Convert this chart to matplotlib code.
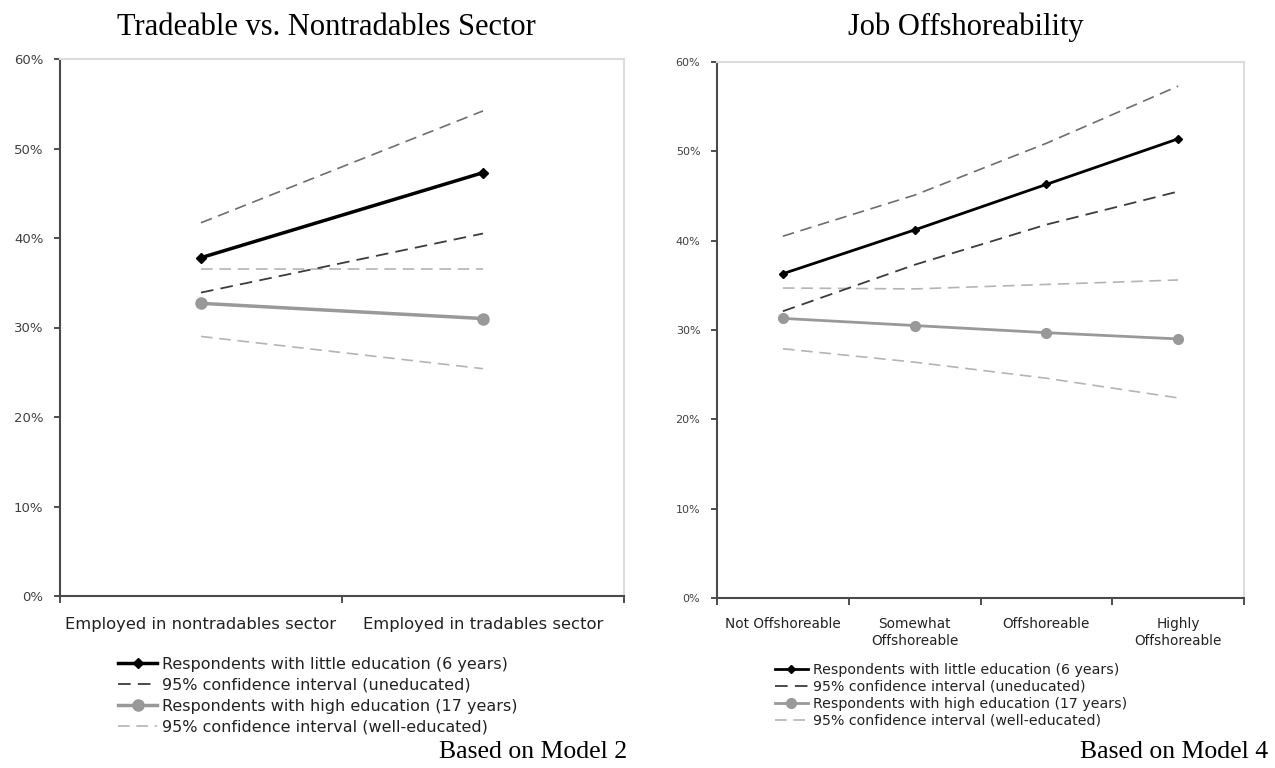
import matplotlib.pyplot as plt

# predicted support (%) by sector type
sector_labels = ['Employed in nontradables sector', 'Employed in tradables sector']
sector_low_edu = [37.8, 47.3]
sector_low_ci_hi = [41.7, 54.2]
sector_low_ci_lo = [33.9, 40.5]
sector_high_edu = [32.7, 31.0]
sector_high_ci_hi = [36.5, 36.5]
sector_high_ci_lo = [29.0, 25.4]

# predicted support (%) by offshoreability of the job
offsh_labels = ['Not Offshoreable', 'Somewhat\nOffshoreable', 'Offshoreable', 'Highly\nOffshoreable']
offsh_low_edu = [36.3, 41.2, 46.3, 51.4]
offsh_low_ci_hi = [40.5, 45.1, 50.9, 57.3]
offsh_low_ci_lo = [32.1, 37.3, 41.8, 45.5]
offsh_high_edu = [31.3, 30.5, 29.7, 29.0]
offsh_high_ci_hi = [34.7, 34.6, 35.1, 35.6]
offsh_high_ci_lo = [27.9, 26.4, 24.6, 22.4]

legend_labels = ['Respondents with little education (6 years)',
                 '95% confidence interval (uneducated)',
                 'Respondents with high education (17 years)',
                 '95% confidence interval (well-educated)']

W, H = 1275, 768
fig = plt.figure(figsize=(W / 100, H / 100), dpi=100)


def box(x0, x1, y0, y1):
    # pixel box -> figure fraction rect
    return [x0 / W, 1 - y1 / H, (x1 - x0) / W, (y1 - y0) / H]


def panel(rect, labels, low, low_hi, low_lo, high, high_hi, high_lo,
          lw, dmark, omark, tick_fs, ypad, xlab_fs, xpad):
    ax = fig.add_axes(rect)
    x = list(range(len(labels)))
    ax.plot(x, low_hi, color='#6e6e6e', lw=1.2, dashes=(7, 4))
    ax.plot(x, high_hi, color='#b4b4b4', lw=1.2, dashes=(7, 4))
    l1, = ax.plot(x, low, color='black', lw=lw, marker='D', ms=dmark)
    l2, = ax.plot(x, low_lo, color='#3c3c3c', lw=1.3, dashes=(7, 4))
    l3, = ax.plot(x, high, color='#999999', lw=lw, marker='o', ms=omark)
    l4, = ax.plot(x, high_lo, color='#b4b4b4', lw=1.2, dashes=(7, 4))
    ax.set_xlim(-0.5, len(labels) - 0.5)
    ax.set_ylim(0, 60)
    ax.set_yticks(range(0, 61, 10))
    ax.set_yticklabels([f'{v}%' for v in range(0, 61, 10)])
    ax.set_xticks([i - 0.5 for i in range(len(labels) + 1)])
    ax.set_xticklabels([])
    ax.set_xticks(x, minor=True)
    ax.set_xticklabels(labels, minor=True, fontsize=xlab_fs, color='#222222')
    ax.tick_params(axis='x', which='minor', length=0, pad=xpad)
    ax.tick_params(axis='x', which='major', length=5, width=1.3, color='#404040')
    ax.tick_params(axis='y', length=4, width=1.3, color='#404040',
                   labelsize=tick_fs, labelcolor='#404040', pad=ypad)
    for s in ['left', 'bottom']:
        ax.spines[s].set_color('#4a4a4a')
        ax.spines[s].set_linewidth(1.5)
    for s in ['top', 'right']:
        ax.spines[s].set_color('#dcdcdc')
        ax.spines[s].set_linewidth(1.5)
    return ax, [l1, l2, l3, l4]


ax1, h1 = panel(box(60, 624, 59, 596), sector_labels,
                sector_low_edu, sector_low_ci_hi, sector_low_ci_lo,
                sector_high_edu, sector_high_ci_hi, sector_high_ci_lo,
                2.5, 5, 8, 9.5, 8, 11.8, 15)
ax2, h2 = panel(box(717, 1244, 62, 598), offsh_labels,
                offsh_low_edu, offsh_low_ci_hi, offsh_low_ci_lo,
                offsh_high_edu, offsh_high_ci_hi, offsh_high_ci_lo,
                2.0, 4, 7, 8, 8, 9.8, 14)

fig.legend(h1, legend_labels, loc='upper left', bbox_to_anchor=(118 / W, 1 - 657 / H),
           frameon=False, borderpad=0, borderaxespad=0, handlelength=2.45,
           handletextpad=0.3, labelspacing=0.36, fontsize=11.5, labelcolor='#222222')
fig.legend(h2, legend_labels, loc='upper left', bbox_to_anchor=(775 / W, 1 - 663 / H),
           frameon=False, borderpad=0, borderaxespad=0, handlelength=2.3,
           handletextpad=0.35, labelspacing=0.2, fontsize=10.2, labelcolor='#222222')

serif = 'Liberation Serif'
fig.text(326 / W, 1 - 35 / H, 'Tradeable vs. Nontradables Sector', ha='center', va='baseline',
         fontsize=22, family=serif)
fig.text(966 / W, 1 - 35 / H, 'Job Offshoreability', ha='center', va='baseline',
         fontsize=22, family=serif)
fig.text(627 / W, 1 - 758 / H, 'Based on Model 2', ha='right', va='baseline',
         fontsize=18.5, family=serif)
fig.text(1268 / W, 1 - 758 / H, 'Based on Model 4', ha='right', va='baseline',
         fontsize=18.5, family=serif)

fig.savefig('out.png', dpi=100)
